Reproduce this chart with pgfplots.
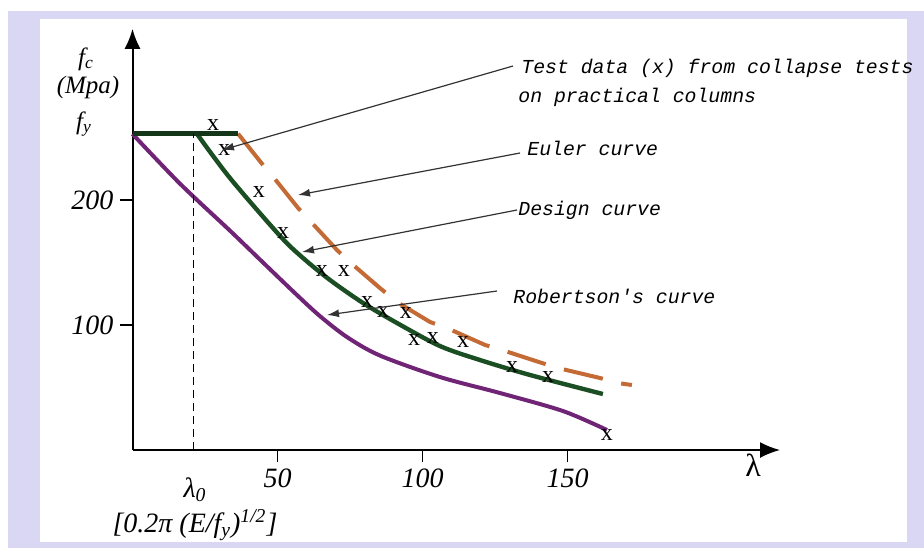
\documentclass[border=0pt]{standalone}
\usepackage{pgfplots}
\pgfplotsset{compat=1.18}
\usepackage{fontspec}
\setmainfont{Liberation Serif}
\newfontfamily\annfont{Liberation Mono}
\usetikzlibrary{arrows.meta}
\definecolor{lav}{RGB}{218,215,245}
\definecolor{dgreen}{RGB}{28,78,36}
\definecolor{purp}{RGB}{112,36,118}
\definecolor{orng}{RGB}{196,106,52}
\definecolor{mk}{RGB}{80,80,80}
\newcommand\ann{\annfont\itshape\fontsize{9.9}{12}\selectfont}
\newcommand\lab{\itshape\fontsize{14}{16}\selectfont}
\newcommand\labs{\itshape\fontsize{12.5}{14}\selectfont}
\begin{document}
\begin{tikzpicture}
\begin{scope}[x=0.5pt,y=-0.5pt,shift={(-66.25pt,225pt)}]
 \fill[white] (0,0) rectangle (924,548);
 \fill[lav] (8,11) rectangle (924,548);
 \fill[white] (40,19) rectangle (907,542);
\end{scope}
\begin{axis}[
  at={(0pt,0pt)}, anchor=south west,
  x=1.45pt, y=0.625pt,
  xmin=0, xmax=223.3, ymin=0, ymax=337,
  axis lines*=left,
  axis line style={line width=1pt, -{Latex[length=10pt,width=8pt]}},
  xtick={50,100,150}, xticklabels={50,100,150},
  ytick={100,200}, yticklabels={100,200},
  tick align=outside,
  major tick length=6pt,
  tick style={black, line width=0.8pt},
  ticklabel style={font=\lab},
  clip=false,
]
\addplot[purp, line width=2pt, smooth] coordinates {(0,252.8) (16.4,213) (33.6,175.5) (45,150) (56.7,124) (64.7,107) (74,90.3) (85.3,75.6) (106,58.4) (126.7,45.6) (148.4,31.2) (163.6,16)};
\addplot[dgreen, line width=2.2pt, smooth] coordinates {(22.2,253) (33.6,217.6) (50.9,171.2) (58.8,153.6) (68.1,136) (79.5,117.6) (91.2,101.6) (106,83.2) (119.8,72) (137.1,60) (162.2,44.8)};
\addplot[orng, line width=2pt, dash pattern=on 20pt off 9.5pt] coordinates {(36.4,253) (45,228) (49.1,216.8) (57.1,193.6) (61.9,181.6) (70.5,160) (75.7,148.8) (85.3,129.6) (91.2,118.4) (102.6,102.4) (108.4,97.6) (121.6,84) (127.4,80) (141.2,69.6) (146.7,65.6) (161.2,57.6) (167.4,53.6) (172.2,52)};
\addplot[dgreen!70!black, line width=2.4pt] coordinates {(0,253) (36.4,253)};
\addplot[black, line width=0.75pt, dash pattern=on 4pt off 2.5pt] coordinates {(21,0) (21,253)};
\addplot[only marks, color=mk, mark=text, text mark={\fontsize{12}{12}\selectfont x}] coordinates {(27.8,260) (31.6,240) (43.6,206.4) (51.9,173.6) (65.3,143.2) (72.9,143.2) (80.9,118.4) (86.4,110.4) (94.3,109.6) (97.1,88) (103.6,89.6) (114,86.4) (130.9,66.4) (143.3,58.4) (163.6,12)};
\end{axis}
\begin{scope}[x=0.5pt,y=-0.5pt,shift={(-66.25pt,225pt)}]
 \begin{scope}[draw=black!80, line width=0.6pt, -{Latex[length=6pt,width=4pt]}]
 \draw (513,66) -- (222,150);
 \draw (520,153) -- (298,195);
 \draw (517,210) -- (302,252);
 \draw (497,291) -- (327,315);
 \end{scope}
 \node[anchor=base west, inner sep=0] at (521,73) {\ann Test data (x) from collapse tests};
 \node[anchor=base west, inner sep=0] at (518,102) {\ann on practical columns};
 \node[anchor=base west, inner sep=0] at (527,155) {\ann Euler curve};
 \node[anchor=base west, inner sep=0] at (518,215) {\ann Design curve};
 \node[anchor=base west, inner sep=0] at (513,303) {\ann Robertson's curve};
 \node at (86,59) {\labs f\textsubscript{c}};
 \node at (88,87) {\labs (Mpa)};
 \node at (84,124) {\labs f\textsubscript{y}};
 \node at (753,465) {\fontsize{16}{16}\selectfont λ};
 \node at (195,490) {\lab λ\textsubscript{0}};
 \node at (195,525) {\lab [0.2π (E/f\textsubscript{y})\textsuperscript{1/2}]};
\end{scope}
\end{tikzpicture}
\end{document}
